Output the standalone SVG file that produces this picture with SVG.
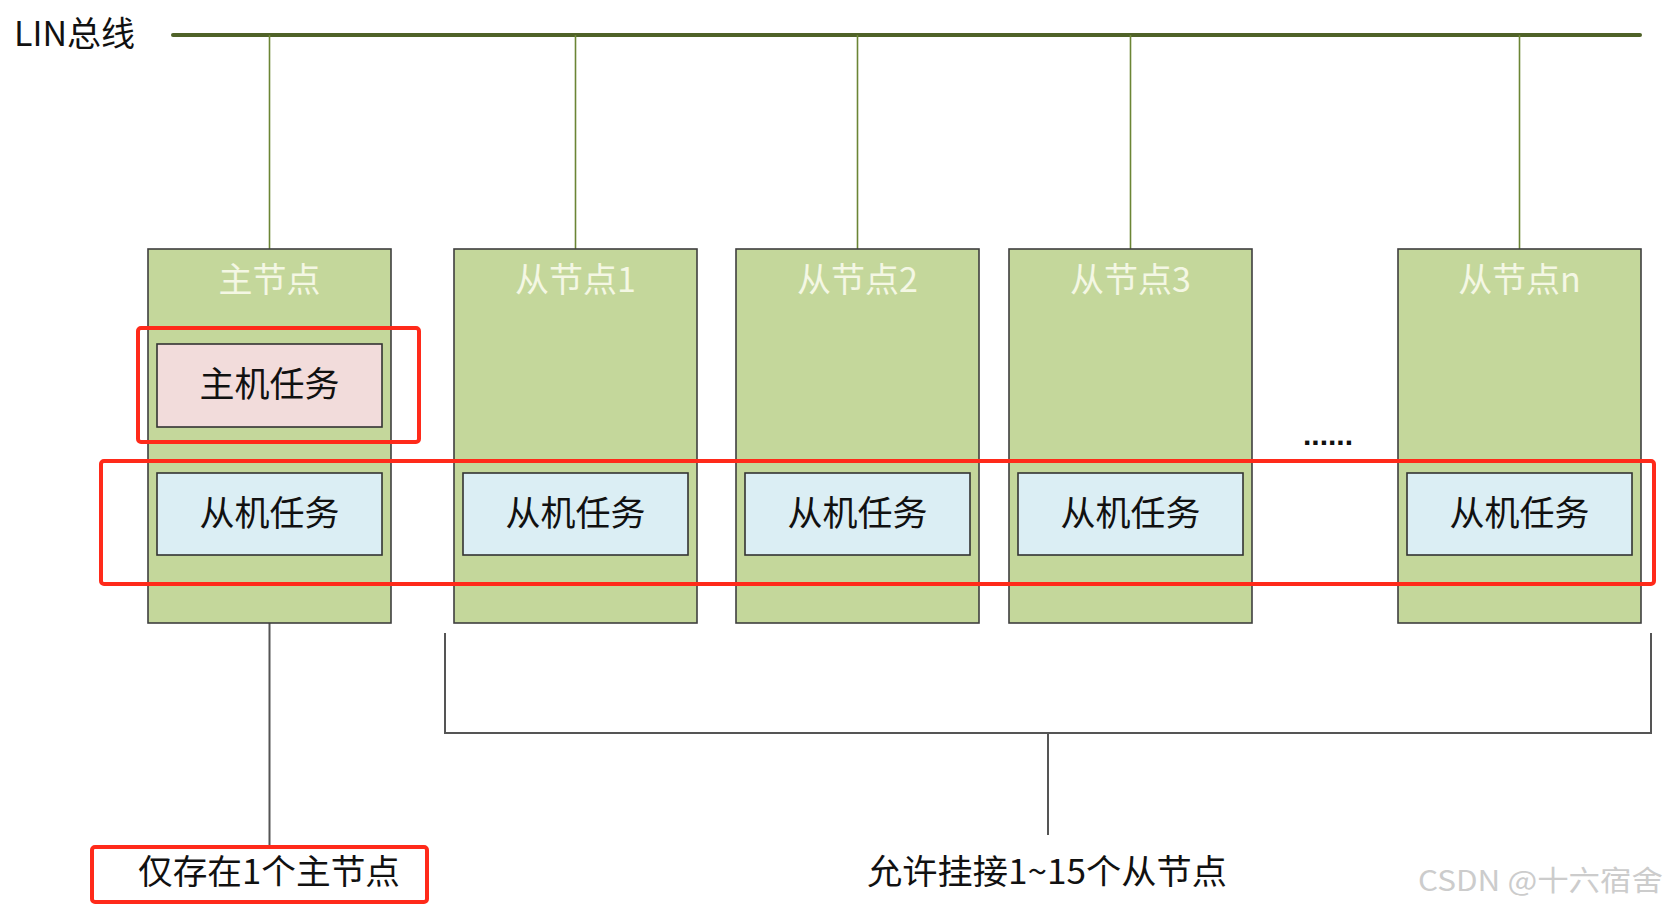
<svg xmlns="http://www.w3.org/2000/svg" width="1672" height="912" viewBox="0 0 1672 912">
<style>
text{font-family:"Noto Sans CJK SC","Microsoft YaHei","Noto Sans",sans-serif;dominant-baseline:central;}
.node{fill:#c4d79b;stroke:#3f3f3f;stroke-width:1.6;}
.title{fill:#f4f7e4;font-size:34px;text-anchor:middle;}
.slave{fill:#dbeef4;stroke:#333;stroke-width:1.6;}
.master{fill:#f2dcdb;stroke:#333;stroke-width:1.6;}
.task{fill:#111;font-size:35px;text-anchor:middle;}
.tap{stroke:#6b8535;stroke-width:1.6;fill:none;}
.gray{stroke:#555;stroke-width:2;fill:none;}
.red{fill:none;stroke:#ff2a1a;stroke-width:4;}
.label{fill:#111;font-size:34px;}
</style>
<rect width="1672" height="912" fill="#fff"/>
<g id="bus">
<text x="14" y="31" class="label" font-size="34">LIN总线</text>
<line x1="173" y1="35" x2="1640" y2="35" stroke="#4f6228" stroke-width="4" stroke-linecap="round"/>
</g>
<g id="connectors">
<line class="tap" x1="269.5" y1="35" x2="269.5" y2="249"/>
<line class="tap" x1="575.5" y1="35" x2="575.5" y2="249"/>
<line class="tap" x1="857.5" y1="35" x2="857.5" y2="249"/>
<line class="tap" x1="1130.5" y1="35" x2="1130.5" y2="249"/>
<line class="tap" x1="1519.5" y1="35" x2="1519.5" y2="249"/>
<line class="gray" x1="269.5" y1="623" x2="269.5" y2="847"/>
<path class="gray" d="M445 633 V733 H1651 V633"/>
<line class="gray" x1="1048" y1="733" x2="1048" y2="835"/>
</g>
<g id="master-node">
<rect class="node" x="148" y="249" width="243" height="374"/>
<text class="title" x="269.5" y="277">主节点</text>
<rect class="master" x="157" y="344" width="225" height="83"/>
<text class="task" x="269.5" y="381">主机任务</text>
<rect class="slave" x="157" y="473" width="225" height="82"/>
<text class="task" x="269.5" y="510">从机任务</text>
</g>
<g id="slave-node-1">
<rect class="node" x="454" y="249" width="243" height="374"/>
<text class="title" x="575.5" y="277">从节点1</text>
<rect class="slave" x="463" y="473" width="225" height="82"/>
<text class="task" x="575.5" y="510">从机任务</text>
</g>
<g id="slave-node-2">
<rect class="node" x="736" y="249" width="243" height="374"/>
<text class="title" x="857.5" y="277">从节点2</text>
<rect class="slave" x="745" y="473" width="225" height="82"/>
<text class="task" x="857.5" y="510">从机任务</text>
</g>
<g id="slave-node-3">
<rect class="node" x="1009" y="249" width="243" height="374"/>
<text class="title" x="1130.5" y="277">从节点3</text>
<rect class="slave" x="1018" y="473" width="225" height="82"/>
<text class="task" x="1130.5" y="510">从机任务</text>
</g>
<g id="slave-node-n">
<rect class="node" x="1398" y="249" width="243" height="374"/>
<text class="title" x="1519.5" y="277">从节点n</text>
<rect class="slave" x="1407" y="473" width="225" height="82"/>
<text class="task" x="1519.5" y="510">从机任务</text>
</g>
<g id="ellipsis">
<text x="1328" y="434" font-size="30" font-weight="bold" fill="#111" text-anchor="middle" style="font-family:'Liberation Sans',sans-serif">......</text>
</g>
<g id="highlights">
<rect class="red" x="138" y="328" width="281" height="114" rx="3"/>
<rect class="red" x="101" y="461" width="1553" height="123" rx="3"/>
<rect class="red" x="92" y="847" width="335" height="55" rx="3"/>
</g>
<g id="labels">
<text class="label" x="138" y="869" textLength="262" lengthAdjust="spacingAndGlyphs">仅存在1个主节点</text>
<text class="label" x="867" y="869" textLength="360" lengthAdjust="spacingAndGlyphs">允许挂接1~15个从节点</text>
<text x="1418" y="879" font-size="28" fill="#cccccc" textLength="245" lengthAdjust="spacingAndGlyphs">CSDN @十六宿舍</text>
</g>
</svg>
